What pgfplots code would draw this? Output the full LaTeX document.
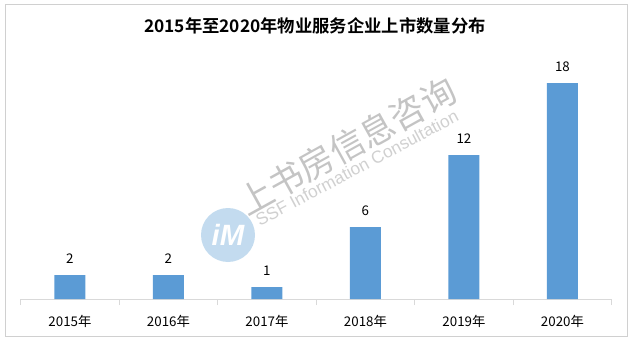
\documentclass[border=0pt]{standalone}
\usepackage{fontspec}
\usepackage{pgfplots}
\pgfplotsset{compat=1.18}
\setmainfont{Noto Sans CJK SC}
\newfontfamily\cjkbold{Noto Sans CJK SC Bold}
\newfontfamily\latinsans{Liberation Sans}
\definecolor{barblue}{HTML}{5B9BD5}
\definecolor{axgray}{HTML}{D9D9D9}
\definecolor{framegray}{HTML}{D0D0D0}
\definecolor{wm}{HTML}{C4C4C4}
\definecolor{wmlogo}{HTML}{A9CCE8}
\begin{document}
\begin{tikzpicture}[x=0.75pt,y=0.75pt]
\path (0,0) rectangle (629,340);
\draw[framegray,line width=0.75pt] (5,4) rectangle (627,335);
% watermark
\node[rotate=29,text=wm,font=\fontsize{26pt}{26pt}\selectfont] at (347,194) {上书房信息咨询};
\node[rotate=28,text=wm!80!white,font=\latinsans\fontsize{13pt}{13pt}\selectfont] at (357,172) {SSF Information Consultation};
\fill[wmlogo,opacity=0.7] (228,105) circle (27);
\node[text=white,font=\latinsans\itshape\bfseries\fontsize{22pt}{22pt}\selectfont] at (228,105) {iM};
% title
\node[font=\cjkbold\fontsize{13pt}{13pt}\selectfont] at (315,314) {2015年至2020年物业服务企业上市数量分布};
\begin{axis}[
  at={(21,34)}, anchor=south west,
  scale only axis,
  width=443.25pt, height=180pt,
  xmin=-0.5, xmax=5.5, ymin=0, ymax=20,
  axis x line=bottom, axis y line=none,
  axis line style={axgray,line width=0.75pt,-},
  xtick={0,1,2,3,4,5},
  xticklabels={2015年,2016年,2017年,2018年,2019年,2020年},
  major tick length=0pt,
  minor xtick={-0.5,0.5,1.5,2.5,3.5,4.5,5.5},
  minor tick length=4.5pt,
  tick align=outside,
  minor tick style={axgray,line width=0.75pt},
  xticklabel style={font=\fontsize{10pt}{10pt}\selectfont, yshift=-8.5pt},
  ytick=\empty,
  ybar, bar width=23.25pt,
  nodes near coords,
  /pgf/number format/assume math mode=true,
  every node near coord/.append style={font=\fontsize{10pt}{10pt}\selectfont, black, yshift=5.25pt},
  clip=false,
]
\addplot[fill=barblue, draw=none] coordinates {(0,2) (1,2) (2,1) (3,6) (4,12) (5,18)};
\end{axis}
\end{tikzpicture}
\end{document}
